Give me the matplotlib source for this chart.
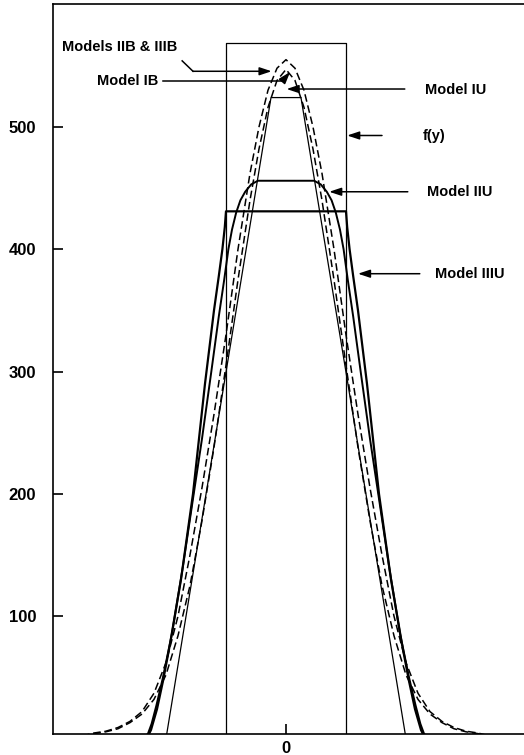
import matplotlib
matplotlib.use("Agg")
import matplotlib.pyplot as plt
import numpy as np

# right half of each (symmetric) profile, x in units of the f(y) half-width
fy_x = [0.0, 1.0, 1.0]
fy_y = [568.5, 568.5, 0.0]

iu_x = [0.0, 0.25, 2.0]
iu_y = [524, 524, 0]

iiu_x = [0.0, 0.47, 0.58, 0.68, 0.76, 0.83, 0.90, 0.96, 1.03, 1.12, 1.25,
         1.40, 1.55, 1.72, 1.90, 2.05, 2.16, 2.24, 2.30, 2.38]
iiu_y = [456, 456, 453, 447, 440, 430, 416, 400, 375, 345, 298,
         245, 196, 140, 86, 50, 27, 12, 4, 0]

iiiu_x = [0.0, 1.0, 1.02, 1.06, 1.12, 1.20, 1.35, 1.55, 1.75, 1.93, 2.05,
          2.15, 2.25, 2.32]
iiiu_y = [431, 431, 418, 400, 378, 350, 290, 200, 130, 78, 47,
          24, 7, 0]

ib_x = [0.0, 0.15, 0.3, 0.45, 0.6, 0.8, 1.0, 1.2, 1.4, 1.6, 1.8, 2.0,
        2.2, 2.4, 2.6, 2.8, 3.0, 3.2, 3.4]
ib_y = [547, 538, 516, 482, 440, 375, 305, 238, 178, 125, 84, 52,
        32, 20, 13, 8, 5.5, 4, 2]

iib_x = [0.0, 0.15, 0.3, 0.45, 0.6, 0.8, 1.0, 1.2, 1.4, 1.6, 1.8, 2.0,
         2.2, 2.4, 2.6, 2.8, 3.0, 3.2, 3.4]
iib_y = [555, 548, 530, 500, 462, 400, 330, 265, 205, 150, 100, 62,
         37, 22, 14, 9, 6, 4.5, 2]

y_ticks = [100, 200, 300, 400, 500]
x_ticks = [0]


def mirror(hx, hy):
    hx = np.asarray(hx, float)
    hy = np.asarray(hy, float)
    return np.concatenate([-hx[::-1], hx]), np.concatenate([hy[::-1], hy])


fig = plt.figure(figsize=(5.24, 7.55), dpi=100)
ax = fig.add_axes([53 / 524, 1 - 734 / 755, 476 / 524, 730 / 755])

tick_font = dict(family="Liberation Sans", weight="bold", size=12)
lab_font = dict(family="Liberation Sans", weight="bold", size=10.5)

# curves
x, y = mirror(fy_x, fy_y)
ax.plot(x, y, color="black", lw=0.9)
x, y = mirror(iu_x, iu_y)
ax.plot(x, y, color="black", lw=0.9)
x, y = mirror(iiu_x, iiu_y)
ax.plot(x, y, color="black", lw=1.4)
x, y = mirror(iiiu_x, iiiu_y)
ax.plot(x, y, color="black", lw=1.6)
x, y = mirror(ib_x, ib_y)
ax.plot(x, y, color="black", lw=1.1, dashes=(5, 2.5))
x, y = mirror(iib_x, iib_y)
ax.plot(x, y, color="black", lw=1.1, dashes=(5, 2.5))

arrow = dict(arrowstyle="-|>,head_length=0.6,head_width=0.2",
             color="black", lw=1.1, shrinkA=0, shrinkB=0, mutation_scale=12)

# Models IIB & IIIB
ax.text(-3.73, 565.5, "Models IIB & IIIB", ha="left", va="center", **lab_font)
ax.plot([-1.73, -1.55], [554, 545.5], color="black", lw=1.1)
ax.annotate("", xy=(-0.24, 545.5), xytext=(-1.55, 545.5), arrowprops=arrow)

# Model IB
ax.text(-3.15, 537.5, "Model IB", ha="left", va="center", **lab_font)
ax.plot([-2.05, -0.06], [537.5, 537.5], color="black", lw=1.1)
ax.annotate("", xy=(0.07, 545), xytext=(-0.06, 537.5), arrowprops=arrow)

# Model IU
ax.text(2.32, 530.5, "Model IU", ha="left", va="center", **lab_font)
ax.annotate("", xy=(0.01, 531), xytext=(1.98, 531), arrowprops=arrow)

# f(y)
ax.text(2.28, 492.8, "f(y)", ha="left", va="center", **lab_font)
ax.annotate("", xy=(1.02, 493), xytext=(1.6, 493), arrowprops=arrow)

# Model IIU
ax.text(2.35, 447, "Model IIU", ha="left", va="center", **lab_font)
ax.annotate("", xy=(0.72, 447), xytext=(2.03, 447), arrowprops=arrow)

# Model IIIU
ax.text(2.48, 380, "Model IIIU", ha="left", va="center", **lab_font)
ax.annotate("", xy=(1.2, 380), xytext=(2.23, 380), arrowprops=arrow)

ax.set_xlim(-3.883, 4.05)
ax.set_ylim(3.7, 600.5)
ax.set_yticks(y_ticks)
ax.set_yticklabels([str(v) for v in y_ticks], **tick_font)
ax.set_xticks(x_ticks)
ax.set_xticklabels([str(v) for v in x_ticks], **tick_font)
ax.tick_params(direction="in", length=7, width=1.2, color="black")
ax.tick_params(axis="y", pad=12)
ax.tick_params(axis="x", pad=5)
ax.spines["right"].set_visible(False)
for s in ["left", "top", "bottom"]:
    ax.spines[s].set_linewidth(1.2)

fig.savefig("out.png", dpi=100)
